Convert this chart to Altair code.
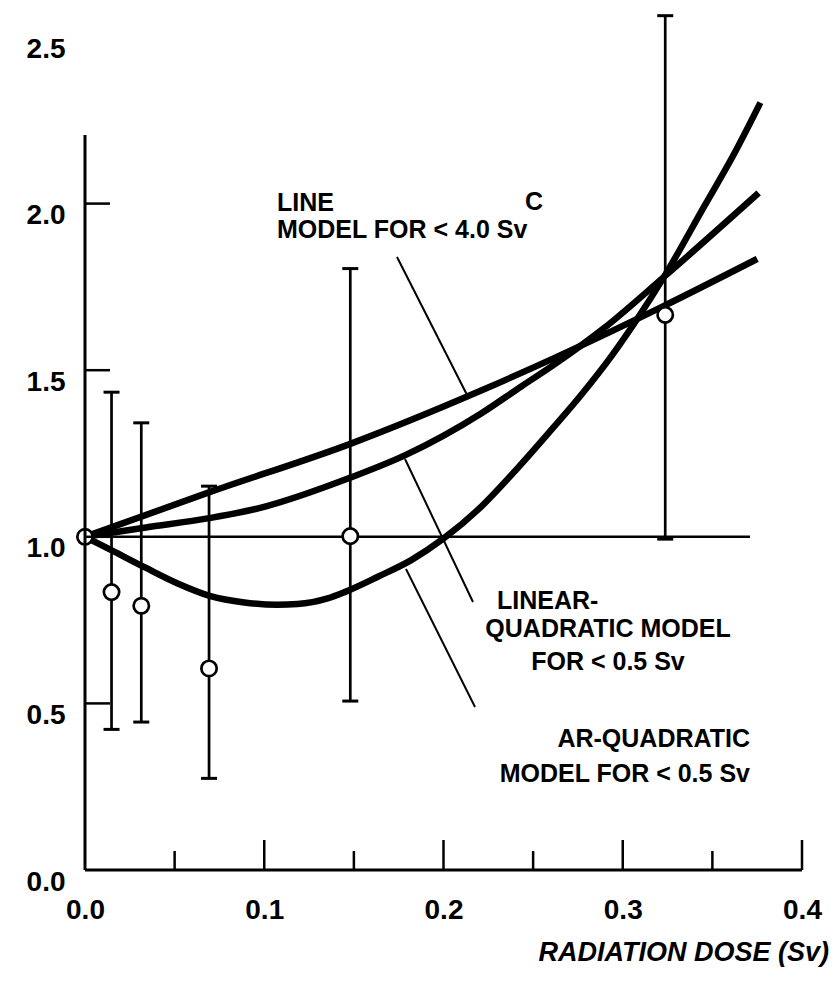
import altair as alt
import pandas as pd

# ---- data (dose in Sv, relative risk) ----
obs_dose = [0.0, 0.0148, 0.0314, 0.0692, 0.148, 0.3237]
obs_rr = [1.0, 0.834, 0.793, 0.605, 1.002, 1.666]

bar_dose = [0.0148, 0.0314, 0.0692, 0.148, 0.3237]
bar_lo = [0.422, 0.444, 0.275, 0.507, 0.993]
bar_hi = [1.434, 1.342, 1.152, 1.805, 2.564]

lin_dose = [0.0, 0.0695, 0.148, 0.221, 0.262, 0.323, 0.375]
lin_rr = [1.0, 1.134, 1.279, 1.439, 1.537, 1.693, 1.834]

lq_dose = [0.0, 0.034, 0.0692, 0.0972, 0.1478, 0.1787, 0.221, 0.2436, 0.2623, 0.289, 0.323, 0.3758]
lq_rr = [1.0, 1.028, 1.056, 1.086, 1.177, 1.245, 1.370, 1.452, 1.519, 1.624, 1.780, 2.032]

lqn_dose = [0.0, 0.0147, 0.0335, 0.0517, 0.070, 0.0889, 0.1073, 0.1185, 0.1353, 0.1448, 0.1637,
            0.182, 0.2001, 0.22, 0.2388, 0.2582, 0.277, 0.2942, 0.3086, 0.323, 0.346, 0.3617, 0.3768]
lqn_rr = [1.0, 0.960, 0.908, 0.860, 0.822, 0.803, 0.796, 0.798, 0.815, 0.834, 0.881,
          0.930, 0.995, 1.085, 1.191, 1.309, 1.427, 1.546, 1.658, 1.780, 1.997, 2.145, 2.303]

ref_dose = [0.0, 0.371]
ref_rr = [1.0, 1.0]

x_labels = [0.0, 0.1, 0.2, 0.3, 0.4]
y_labels = [0.0, 0.5, 1.0, 1.5, 2.0, 2.5]
x_ticks_major = [0.1, 0.2, 0.3, 0.4]
x_ticks_minor = [0.05, 0.15, 0.25, 0.35]
y_ticks = [0.5, 1.0, 1.5, 2.0]

# ---- layout / style ----
W, H = 717, 833
FONT = "Liberation Sans"

xs = alt.Scale(domain=[0, 0.4], nice=False, zero=False)
ys = alt.Scale(domain=[0, 2.5], nice=False, zero=False)
xaxis = alt.Axis(values=x_labels, format=".1f", title=None, domain=False, ticks=False,
                 tickSize=0, grid=False, labelPadding=26, labelFont=FONT, labelFontSize=28,
                 labelFontWeight="bold", labelColor="black", labelFlush=False, labelOverlap=False)
yaxis = alt.Axis(values=y_labels, format=".1f", title=None, domain=False, ticks=False,
                 tickSize=0, grid=False, labelPadding=20, labelOffset=12, labelFont=FONT,
                 labelFontSize=28, labelFontWeight="bold", labelColor="black",
                 labelFlush=False, labelOverlap=False)


def X(f):
    return alt.X(f, type="quantitative", scale=xs, axis=xaxis)


def Y(f):
    return alt.Y(f, type="quantitative", scale=ys, axis=yaxis)


obs_df = pd.DataFrame({"dose": obs_dose, "rr": obs_rr})
bar_df = pd.DataFrame({"dose": bar_dose, "lo": bar_lo, "hi": bar_hi})
ref_df = pd.DataFrame({"dose": ref_dose, "rr": ref_rr})
curve_df = pd.concat([
    pd.DataFrame({"dose": lin_dose, "rr": lin_rr, "model": "linear"}),
    pd.DataFrame({"dose": lq_dose, "rr": lq_rr, "model": "lq"}),
    pd.DataFrame({"dose": lqn_dose, "rr": lqn_rr, "model": "lq_neg"}),
], ignore_index=True)
one = pd.DataFrame({"k": [0]})

hline = alt.Chart(ref_df).mark_line(color="black", strokeWidth=2.5).encode(x=X("dose"), y=Y("rr"))
curves = alt.Chart(curve_df).mark_line(color="black", strokeWidth=6.5, interpolate="monotone").encode(
    x=X("dose"), y=Y("rr"), detail="model:N")
bars = alt.Chart(bar_df).mark_rule(color="black", strokeWidth=2.7).encode(
    x=X("dose"), y=Y("lo"), y2="hi")
caps_hi = alt.Chart(bar_df).mark_tick(color="black", orient="horizontal", size=16, thickness=3,
                                      opacity=1).encode(x=X("dose"), y=Y("hi"))
caps_lo = alt.Chart(bar_df).mark_tick(color="black", orient="horizontal", size=16, thickness=3,
                                      opacity=1).encode(x=X("dose"), y=Y("lo"))
points = alt.Chart(obs_df).mark_point(shape="circle", filled=True, fill="white", stroke="black",
                                      strokeWidth=2.7, size=235, opacity=1).encode(x=X("dose"), y=Y("rr"))

xt_major = alt.Chart(pd.DataFrame({"t": x_ticks_major})).mark_rule(color="black", strokeWidth=2.5).encode(
    x=X("t"), y=alt.value(H), y2=alt.value(H - 30))
xt_minor = alt.Chart(pd.DataFrame({"t": x_ticks_minor})).mark_rule(color="black", strokeWidth=2.5).encode(
    x=X("t"), y=alt.value(H), y2=alt.value(H - 19))
yt = alt.Chart(pd.DataFrame({"t": y_ticks})).mark_rule(color="black", strokeWidth=2.5).encode(
    y=Y("t"), x=alt.value(0), x2=alt.value(25))
x_line = alt.Chart(one).mark_rule(color="black", strokeWidth=3).encode(
    x=alt.value(0), x2=alt.value(W), y=alt.value(H))
y_line = alt.Chart(one).mark_rule(color="black", strokeWidth=3).encode(
    x=alt.value(0), y=alt.value(98), y2=alt.value(H))


def pointer(x1, y1, x2, y2):
    return alt.Chart(one).mark_rule(color="black", strokeWidth=2).encode(
        x=alt.value(x1), y=alt.value(y1), x2=alt.value(x2), y2=alt.value(y2))


def label(txt, x, y, align, size=25):
    return alt.Chart(one).mark_text(text=txt, align=align, baseline="alphabetic", font=FONT,
                                    fontSize=size, fontWeight="bold", color="black").encode(
        x=alt.value(x), y=alt.value(y))


texts = [
    label("LINE", 192, 174, "left"),
    label("C", 440, 173, "left"),
    label("MODEL FOR < 4.0 Sv", 192, 201, "left"),
    label("LINEAR-", 412, 572, "left"),
    label("QUADRATIC MODEL", 523, 600, "center"),
    label("FOR < 0.5 Sv", 523, 633, "center"),
    label("AR-QUADRATIC", 665, 710, "right"),
    label("MODEL FOR < 0.5 Sv", 665, 745, "right"),
]
pointers = [
    pointer(312, 220, 383.6, 361),
    pointer(388, 565, 320, 422),
    pointer(390, 670, 321, 532),
]
title = alt.Chart(one).mark_text(text="RADIATION DOSE (Sv)", align="right", baseline="alphabetic",
                                 font=FONT, fontSize=27, fontWeight="bold", fontStyle="italic",
                                 color="black").encode(x=alt.value(744), y=alt.value(924))

chart = alt.layer(
    hline, curves, bars, caps_hi, caps_lo, points,
    xt_major, xt_minor, yt, x_line, y_line,
    *pointers, *texts, title,
).properties(
    width=W, height=H,
    autosize=alt.AutoSizeParams(type="none"),
    padding={"left": 77, "top": 29, "right": 28, "bottom": 102},
    background="white",
).configure_view(stroke=None)

chart.save("out.html", embed_options={"renderer": "svg", "actions": False})
